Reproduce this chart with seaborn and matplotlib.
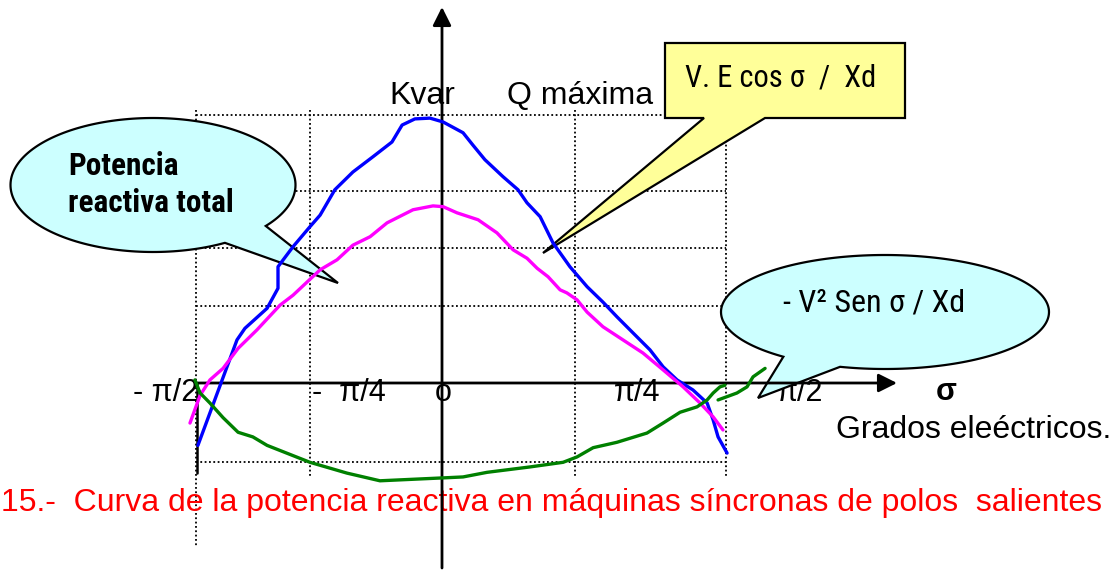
import numpy as np
import pandas as pd
import matplotlib
matplotlib.use("Agg")
import matplotlib.pyplot as plt
from matplotlib.patches import Polygon
import seaborn as sns

sns.set_style("white")
plt.rcParams["font.family"] = ["Liberation Sans", "DejaVu Sans"]
plt.rcParams["text.color"] = "black"

# sigma in (hand drawn) electrical degrees, Q in grid units
blue_x = [-89.3, -75.0, -72.1, -64.0, -60.0, -60.0, -54.5, -48.3, -44.6, -39.2, -32.6, -25.2,
          -18.3, -14.6, -9.9, -4.4, 0.4, 7.7, 11.3, 15.7, 22.3, 27.8, 31.1, 35.9, 40.6, 46.8,
          53.1, 58.9, 64.0, 69.9, 76.1, 80.9, 86.0, 91.8, 97.0, 99.2, 101.0, 104.3]
blue_y = [-0.81, 0.56, 0.71, 0.97, 1.23, 1.51, 1.77, 2.03, 2.18, 2.51, 2.74, 2.94,
          3.13, 3.35, 3.43, 3.44, 3.39, 3.25, 3.09, 2.90, 2.68, 2.51, 2.34, 2.16, 1.82, 1.51,
          1.25, 1.05, 0.86, 0.65, 0.43, 0.21, 0.04, -0.09, -0.26, -0.48, -0.70, -0.91]

magenta_x = [-92.2, -88.5, -84.9, -80.1, -74.6, -67.7, -59.3, -54.5, -49.4, -44.6, -38.4, -32.6,
             -26.3, -20.1, -10.6, -3.3, 0.4, 5.5, 13.2, 20.1, 26.0, 31.1, 34.8, 38.8, 43.2,
             45.7, 49.4, 53.1, 58.9, 66.2, 73.5, 80.9, 88.2, 94.4, 99.2, 102.8]
magenta_y = [-0.52, -0.16, 0.04, 0.19, 0.45, 0.69, 1.01, 1.14, 1.31, 1.47, 1.60, 1.79,
             1.90, 2.08, 2.25, 2.30, 2.29, 2.21, 2.12, 1.95, 1.73, 1.62, 1.49, 1.38, 1.21,
             1.17, 1.08, 0.92, 0.73, 0.56, 0.39, 0.17, -0.05, -0.26, -0.44, -0.61]

green_x = [-90.4, -88.5, -84.9, -80.1, -74.6, -72.8, -69.2, -64.0, -48.3, -34.8, -22.7, 1.8,
           7.7, 16.5, 32.2, 44.3, 49.4, 55.3, 64.0, 75.0, 80.9, 87.1, 93.3, 97.0, 99.2,
           101.7, 103.5]
green_y = [0.04, -0.13, -0.26, -0.45, -0.64, -0.66, -0.70, -0.81, -1.03, -1.17, -1.27, -1.23,
           -1.22, -1.16, -1.09, -1.03, -0.96, -0.84, -0.77, -0.65, -0.52, -0.38, -0.31, -0.22,
           -0.13, -0.05, -0.03]
green_tail_x = [101.0, 107.9, 111.6, 113.8, 118.2]
green_tail_y = [-0.22, -0.13, -0.05, 0.08, 0.19]

grid_x = [-90.0, -48.3, 48.7, 104.0]
grid_y = [-1.03, 1.0, 1.75, 2.49, 3.48]
tick_labels = ["- π/2", "-  π/4", "o", "π/4", "π/2"]

caption = "15.-  Curva de la potencia reactiva en máquinas síncronas de polos  salientes"

# pixel -> data helpers for layout of the drawing
SX = 90.0 / 246.0
SY = 1.0 / 77.0


def px(x):
    return (x - 442) * SX


def py(y):
    return (383 - y) * SY


fig = plt.figure(figsize=(11.19, 5.71), dpi=100)
ax = fig.add_axes([0, 0, 1, 1])
ax.set_xlim(px(0), px(1119))
ax.set_ylim(py(571), py(0))
ax.axis("off")

# dotted grid
dot = dict(color="black", lw=1.3, linestyle=(0, (1, 1.4)), zorder=1)
for gy in grid_y:
    ax.plot([grid_x[0], grid_x[-1]], [gy, gy], **dot)
ax.plot([grid_x[0], grid_x[0]], [py(110), py(547)], **dot)
for gx in grid_x[1:]:
    ax.plot([gx, gx], [py(110), py(477)], **dot)

# tick labels and axis titles
fs = 23
tfs = 22
ax.text(px(198), py(401), tick_labels[0], ha="right", va="baseline", fontsize=tfs, zorder=2)
ax.text(px(312), py(401), tick_labels[1], ha="left", va="baseline", fontsize=tfs, zorder=2)
ax.text(px(435), py(401), tick_labels[2], ha="left", va="baseline", fontsize=tfs, zorder=2)
ax.text(px(614), py(401), tick_labels[3], ha="left", va="baseline", fontsize=tfs, zorder=2)
ax.text(px(777), py(401), tick_labels[4], ha="left", va="baseline", fontsize=tfs, zorder=2)
ax.text(px(936), py(400), "σ", ha="left", va="baseline", fontsize=tfs, fontweight="bold", zorder=2)
ax.text(px(836), py(438), "Grados eleéctricos.", ha="left", va="baseline", fontsize=fs, zorder=2)
ax.text(px(389), py(104), "Kvar", ha="left", va="baseline", fontsize=fs, zorder=2)
ax.text(px(507), py(104), "Q máxima", ha="left", va="baseline", fontsize=fs, zorder=2)
ax.text(px(1), py(511), caption, ha="left", va="baseline", fontsize=fs, color="#FF0000", zorder=2)


def callout(cx, cy, rx, ry, a_start, a_end, tip, fc):
    t = np.radians(np.linspace(a_start, a_end, 200))
    pts = np.column_stack([px(cx) + rx * SX * np.cos(t), py(cy) + ry * SY * np.sin(t)])
    pts = np.vstack([pts, [px(tip[0]), py(tip[1])]])
    ax.add_patch(Polygon(pts, closed=True, fc=fc, ec="black", lw=1.6, zorder=3))


callout(153, 185, 142.5, 67, -37.7, 300.3, (338, 283), "#CCFFFF")
callout(885, 312, 164, 57, 254.1, 591.7, (758, 398), "#CCFFFF")

box = [(665, 43), (905, 43), (905, 118), (765, 118), (543, 253), (704, 118), (665, 118)]
ax.add_patch(Polygon([(px(a), py(b)) for a, b in box], closed=True, fc="#FFFF99",
                     ec="black", lw=1.6, zorder=3))

narrow = ["Roboto Condensed", "DejaVu Sans"]
cond = dict(family=narrow, fontstretch="condensed", zorder=5)
ax.text(px(68), py(175), "Potencia", fontsize=22.5, fontweight="bold", **cond)
ax.text(px(68), py(212), "reactiva total", fontsize=22.5, fontweight="bold", **cond)
ax.text(px(685), py(86), "V. E cos σ  /  Xd", fontsize=22, **cond)
ax.text(px(783), py(312), "- V² Sen σ / Xd", fontsize=fs, **cond)

# axes with arrows
arrow = dict(arrowstyle="-|>", lw=2, color="black", mutation_scale=28, shrinkA=0, shrinkB=0)
ax.annotate("", xy=(px(897), 0), xytext=(px(196), 0), arrowprops=arrow, zorder=4)
ax.annotate("", xy=(0, py(7)), xytext=(0, py(568)), arrowprops=arrow, zorder=4)
ax.plot([px(197), px(197)], [0, py(473)], color="black", lw=1.8, zorder=4)

# curves
lw = 2.4
sns.lineplot(x=blue_x, y=blue_y, sort=False, estimator=None, color="#0000FF", lw=lw, ax=ax, zorder=4)
sns.lineplot(x=magenta_x, y=magenta_y, sort=False, estimator=None, color="#FF00FF", lw=lw, ax=ax, zorder=4)
sns.lineplot(x=green_x, y=green_y, sort=False, estimator=None, color="#008000", lw=lw, ax=ax, zorder=4)
sns.lineplot(x=green_tail_x, y=green_tail_y, sort=False, estimator=None, color="#008000", lw=lw, ax=ax, zorder=4)

fig.savefig("out.png", dpi=100)
